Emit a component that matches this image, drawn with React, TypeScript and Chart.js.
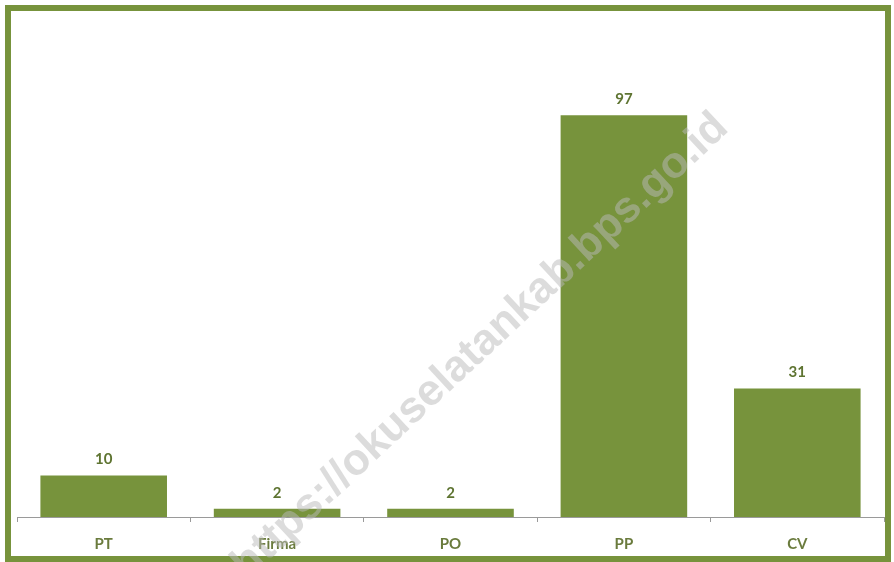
import React, { useEffect, useRef } from "react";
import { Chart, registerables } from "chart.js";

Chart.register(...registerables);

const categories = ["PT", "Firma", "PO", "PP", "CV"];
const values = [10, 2, 2, 97, 31];
const watermark = "https://okuselatankab.bps.go.id";

const GREEN = "#77933C";

const framePlugin = {
  id: "frame",
  beforeDraw(chart: any) {
    const { ctx, width, height } = chart;
    ctx.save();
    ctx.fillStyle = "#ffffff";
    ctx.fillRect(0, 0, width, height);
    ctx.strokeStyle = GREEN;
    ctx.lineWidth = 6;
    ctx.strokeRect(8, 8, 880, 551);
    ctx.restore();
  },
  afterDraw(chart: any) {
    const { ctx } = chart;
    ctx.save();
    ctx.translate(730, 130);
    ctx.rotate(-43 * Math.PI / 180);
    ctx.font = "bold 44px 'Liberation Sans', Arial, sans-serif";
    ctx.textAlign = "right";
    ctx.textBaseline = "alphabetic";
    ctx.fillStyle = "rgba(185,185,185,0.5)";
    ctx.fillText(watermark, 0, 0);
    ctx.restore();
  },
};

const valueLabelPlugin = {
  id: "valueLabels",
  afterDatasetsDraw(chart: any) {
    const { ctx } = chart;
    const meta = chart.getDatasetMeta(0);
    ctx.save();
    ctx.font = "bold 15px Lato, 'Open Sans', sans-serif";
    ctx.fillStyle = "#5E7431";
    ctx.textAlign = "center";
    ctx.textBaseline = "middle";
    meta.data.forEach((bar: any, i: number) => {
      ctx.fillText(String(values[i]), bar.x, bar.y - 16);
    });
    ctx.restore();
  },
};

export default function App() {
  const ref = useRef<HTMLCanvasElement>(null);
  useEffect(() => {
    const chart = new Chart(ref.current!, {
      type: "bar",
      data: {
        labels: categories,
        datasets: [
          {
            data: values,
            backgroundColor: GREEN,
            borderWidth: 0,
            categoryPercentage: 0.73,
            barPercentage: 1,
          },
        ],
      },
      options: {
        responsive: false,
        animation: false,
        maintainAspectRatio: false,
        layout: { padding: { left: 17, right: 10, top: 20, bottom: -4 } },
        plugins: { legend: { display: false }, tooltip: { enabled: false } },
        scales: {
          x: {
            offset: true,
            grid: {
              display: true,
              offset: true,
              drawOnChartArea: false,
              drawTicks: true,
              tickLength: 5,
              color: "#9a9a9a",
            },
            border: { display: true, color: "#9a9a9a", width: 1 },
            ticks: {
              padding: 13,
              color: "#6A7B3D",
              font: { family: "Lato, 'Open Sans', sans-serif", size: 15, weight: "bold" },
            },
          },
          y: { display: false, min: 0, max: 120 },
        },
      },
      plugins: [framePlugin, valueLabelPlugin],
    });
    return () => chart.destroy();
  }, []);
  return (
    <div style={{ position: "absolute", left: 0, top: 0, width: 894, height: 562 }}>
      <canvas ref={ref} width={894} height={562} style={{ display: "block" }} />
    </div>
  );
}
